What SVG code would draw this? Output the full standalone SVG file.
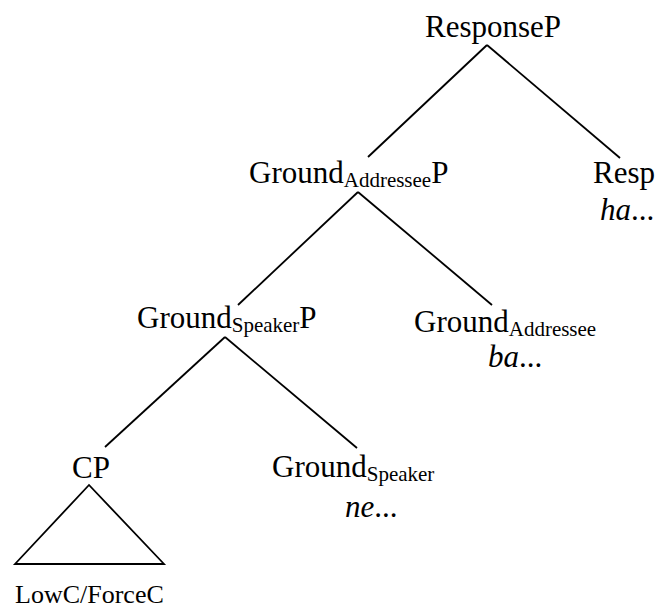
<svg xmlns="http://www.w3.org/2000/svg" width="657" height="609" viewBox="0 0 657 609">
  <style>
    .edge { stroke: #000; stroke-width: 1.8; fill: none; stroke-linecap: butt; }
  </style>
  <rect width="657" height="609" fill="#fff"/>

  <g id="connectors">
    <line class="edge" x1="487" y1="45" x2="368" y2="157"/>
    <line class="edge" x1="487" y1="45" x2="620" y2="158"/>
    <line class="edge" x1="358" y1="192" x2="238" y2="305"/>
    <line class="edge" x1="358" y1="192" x2="492" y2="305"/>
    <line class="edge" x1="225" y1="337" x2="105" y2="447"/>
    <line class="edge" x1="225" y1="337" x2="357" y2="448"/>
  </g>

  <g font-family="Liberation Serif, DejaVu Serif, serif" font-size="31" fill="#000">
    <g id="responseP">
      <text x="425" y="37">ResponseP</text>
    </g>
    <g id="resp">
      <text x="593" y="183">Resp</text>
      <text x="600" y="220"><tspan font-style="italic">ha</tspan>...</text>
    </g>
    <g id="groundAddresseeP">
      <text x="249" y="183">Ground<tspan font-size="21" dy="4">Addressee</tspan><tspan dy="-4">P</tspan></text>
    </g>
    <g id="groundAddressee">
      <text x="414" y="332">Ground<tspan font-size="21" dy="4">Addressee</tspan></text>
      <text x="488" y="367"><tspan font-style="italic">ba</tspan>...</text>
    </g>
    <g id="groundSpeakerP">
      <text x="137" y="328">Ground<tspan font-size="21" dy="4">Speaker</tspan><tspan dy="-4">P</tspan></text>
    </g>
    <g id="groundSpeaker">
      <text x="272" y="477">Ground<tspan font-size="21" dy="4">Speaker</tspan></text>
      <text x="345" y="517"><tspan font-style="italic">ne</tspan>...</text>
    </g>
    <g id="cp">
      <text x="72" y="478">CP</text>
      <polygon class="edge" points="89,485 15,564 164,564"/>
      <text x="15" y="603" font-size="26">LowC/ForceC</text>
    </g>
  </g>
</svg>
